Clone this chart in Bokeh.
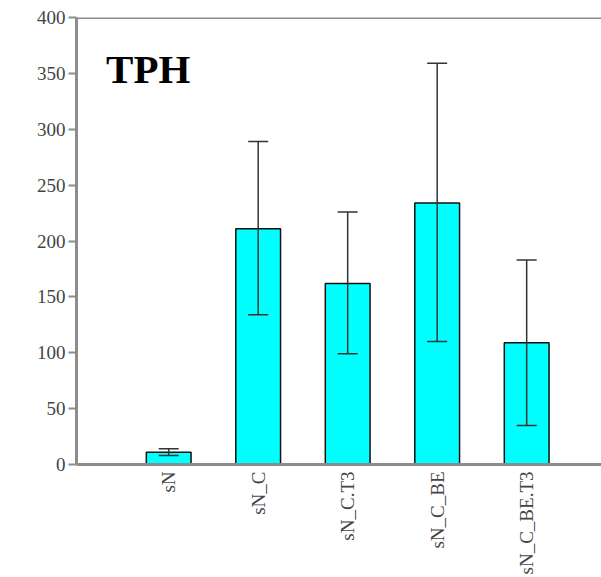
import math
from bokeh.plotting import figure
from bokeh.models import ColumnDataSource, Whisker, TeeHead, Span, Label, FixedTicker, Range1d
from bokeh.embed import file_html
from bokeh.resources import INLINE

categories = ["sN", "sN_C", "sN_C.T3", "sN_C_BE", "sN_C_BE.T3"]
means = [11, 211, 162, 234, 109]
err_low = [8, 134, 99, 110, 35]
err_high = [14, 289, 226, 359, 183]
y_ticks = [0, 50, 100, 150, 200, 250, 300, 350, 400]

idx = list(range(len(categories)))
src = ColumnDataSource(dict(x=idx, top=means, lower=err_low, upper=err_high))

p = figure(width=601, height=577, output_backend="svg", toolbar_location=None,
           x_range=Range1d(-1.03, 4.836), y_range=Range1d(0, 400),
           min_border_left=76, min_border_top=17, min_border_right=0, min_border_bottom=0)
p.outline_line_color = None
p.xgrid.visible = False
p.ygrid.visible = False
p.background_fill_color = "white"

p.vbar(x="x", top="top", width=0.5, bottom=0, source=src,
       fill_color="#00ffff", line_color="#111111", line_width=1.5)

w = Whisker(base="x", lower="lower", upper="upper", source=src,
            line_color="#333333", line_width=1.5, level="overlay",
            upper_head=TeeHead(size=20, line_color="#333333", line_width=1.5),
            lower_head=TeeHead(size=20, line_color="#333333", line_width=1.5))
p.add_layout(w)

p.add_layout(Span(location=400, dimension="width", line_color="#8c8c8c", line_width=3))

p.add_layout(Label(x=-0.70, y=333, text="TPH", text_font="Liberation Serif",
                   text_font_style="bold", text_font_size="41px", text_color="black"))

ya = p.yaxis[0]
ya.ticker = FixedTicker(ticks=y_ticks)
ya.axis_line_color = "#8c8c8c"
ya.axis_line_width = 3
ya.major_tick_line_color = "#8c8c8c"
ya.major_tick_line_width = 2
ya.major_tick_in = 0
ya.major_tick_out = 8
ya.minor_tick_line_color = None
ya.major_label_text_font = "Liberation Serif"
ya.major_label_text_font_size = "19px"
ya.major_label_text_color = "#444444"
ya.major_label_standoff = 3

xa = p.xaxis[0]
xa.ticker = FixedTicker(ticks=idx)
xa.major_label_overrides = {i: c for i, c in zip(idx, categories)}
xa.major_label_orientation = math.pi / 2
xa.axis_line_color = "#8c8c8c"
xa.axis_line_width = 3
xa.major_tick_line_color = None
xa.major_tick_in = 0
xa.major_tick_out = 0
xa.minor_tick_line_color = None
xa.major_label_text_font = "Liberation Serif"
xa.major_label_text_font_size = "19px"
xa.major_label_text_color = "#444444"
xa.major_label_standoff = 7

open("out.html", "w").write(file_html(p, INLINE))
